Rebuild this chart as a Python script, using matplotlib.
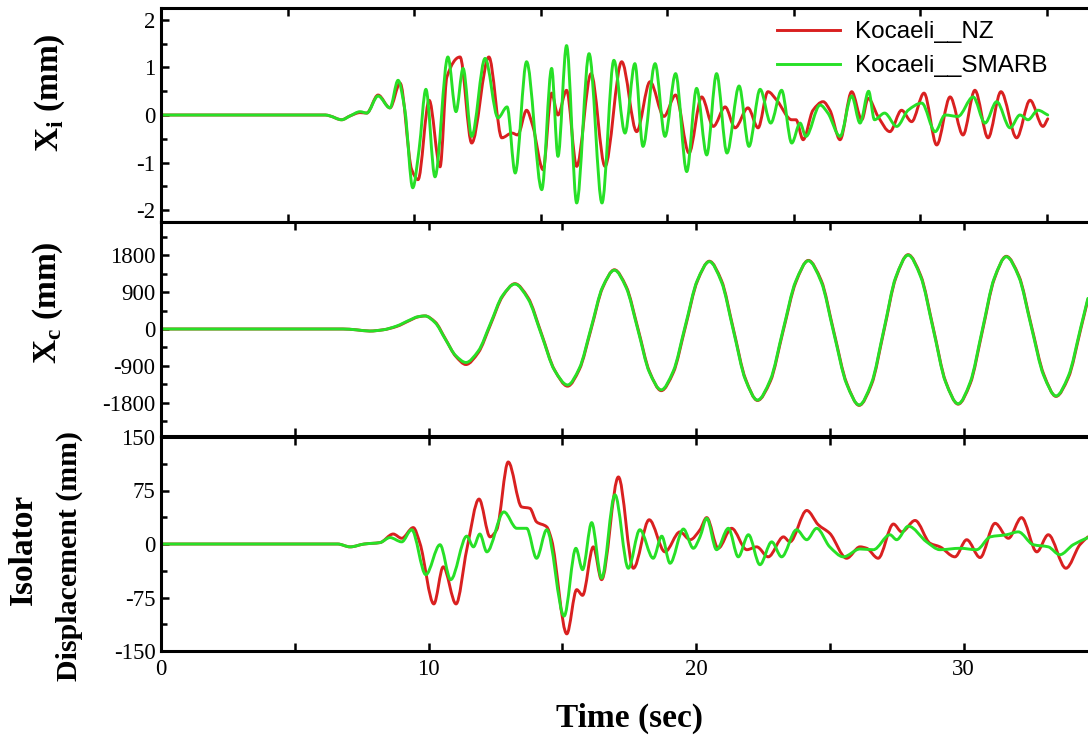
import matplotlib
matplotlib.use('Agg')
import matplotlib.pyplot as plt
from matplotlib.ticker import MultipleLocator, FixedLocator
from matplotlib.path import Path
from matplotlib.patches import PathPatch
from matplotlib.lines import Line2D

plt.rcParams['font.family'] = ['Liberation Serif', 'DejaVu Serif']
plt.rcParams['axes.unicode_minus'] = False

RED = '#d92020'
GREEN = '#27e027'
labels = ['Kocaeli__NZ', 'Kocaeli__SMARB']

# ---- top panel: X_i (mm) ----
xi_t_nz = [0, 6.5, 6.68, 7.14, 7.47, 7.87, 8.13, 8.58, 9.05, 9.45, 9.91, 10.16, 10.6, 11.03,
           11.3, 11.82, 12.28, 12.96, 13.47, 13.87, 14.1, 14.45, 14.7, 15.1, 15.44, 15.69,
           16.03, 16.43, 17.0, 17.55, 18.21, 18.8, 19.33, 19.88, 20.34, 20.87, 21.37, 21.83,
           22.3, 22.69, 23.2, 23.6, 23.99, 24.34, 24.93, 25.1, 25.38, 25.77, 26.17, 26.44,
           26.84, 27.3, 27.7, 27.95, 28.34, 28.81, 29.27, 29.67, 30.16, 30.66, 31.19, 31.7,
           32.17, 32.69, 33.2, 33.82, 34.35, 34.86, 35.05]
xi_nz = [0, 0, -0.02, -0.10, -0.02, 0.05, 0.04, 0.42, 0.15, 0.67, -1.15, -1.36, 0.31, -1.09,
         0.8, 1.22, -0.59, 1.22, -0.48, -0.38, -0.42, 0.10, -0.24, -1.15, 0.46, 0.0,
         0.52, -1.08, 0.87, -1.08, 1.12, -0.35, 0.70, -0.03, 0.42, -0.80, 0.38, -0.24,
         0.17, -0.27, 0.15, -0.27, 0.49, 0.31, -0.10, -0.10, -0.52, 0.10, 0.28, 0.10,
         -0.52, 0.49, -0.10, 0.35, -0.03, -0.35, 0.10, -0.14, 0.46, -0.63, 0.38, -0.42,
         0.52, -0.48, 0.49, -0.48, 0.31, -0.24, -0.08]

xi_t_smarb = [0, 6.5, 6.68, 7.14, 7.47, 7.87, 8.13, 8.58, 9.05, 9.37, 9.64, 9.95, 10.2, 10.47,
              10.83, 11.34, 11.66, 11.94, 12.28, 12.81, 13.32, 13.68, 14.0, 14.45, 15.05,
              15.44, 15.69, 16.03, 16.43, 16.92, 17.43, 17.9, 18.34, 18.73, 19.05, 19.53,
              19.92, 20.34, 20.78, 21.17, 21.57, 21.96, 22.37, 22.85, 23.24, 23.68, 24.1,
              24.53, 24.93, 25.26, 25.49, 26.05, 26.36, 26.84, 27.3, 27.63, 27.97, 28.2,
              28.6, 29.08, 29.53, 30.07, 30.6, 30.99, 31.5, 32.1, 32.57, 33.03, 33.56,
              33.95, 34.27, 34.66, 35.05]
xi_smarb = [0, 0, -0.02, -0.10, -0.02, 0.07, 0.04, 0.40, 0.15, 0.73, 0.10, -1.53, -0.73, 0.54,
            -1.30, 1.22, 0.07, 0.98, -0.45, 1.19, -0.06, 0.17, -1.22, 1.12, -1.57,
            0.98, -0.87, 1.46, -1.85, 1.29, -1.85, 1.15, -0.38, 1.08, -0.66, 1.08,
            -0.45, 0.87, -1.19, 0.56, -0.84, 0.87, -0.80, 0.61, -0.66, 0.54, -0.17,
            0.52, -0.59, -0.17, -0.45, 0.21, 0.04, -0.45, 0.40, -0.17, 0.50, -0.10,
            0.04, -0.24, 0.10, 0.25, -0.35, 0.0, -0.03, 0.38, -0.17, 0.28, -0.27,
            0.0, -0.10, 0.10, 0.0]

# ---- middle panel: X_c (mm) ----
xc_t = [0, 6.8, 7.3, 7.8, 8.3, 8.8, 9.3, 9.6, 9.87,
        10.25, 10.63, 11.02, 11.4,
        11.86, 12.32, 12.77, 13.23,
        13.72, 14.22, 14.71, 15.2,
        15.64, 16.08, 16.51, 16.95,
        17.39, 17.83, 18.26, 18.7,
        19.15, 19.6, 20.05, 20.5,
        20.95, 21.4, 21.85, 22.3,
        22.78, 23.25, 23.73, 24.2,
        24.68, 25.15, 25.63, 26.1,
        26.56, 27.02, 27.47, 27.93,
        28.4, 28.87, 29.33, 29.8,
        30.25, 30.7, 31.15, 31.6,
        32.07, 32.53, 33.0, 33.46,
        33.92, 34.38, 34.65]
xc_smarb = [0, 0, -20, -50, -20, 70, 220, 300, 320,
            154, -250, -654, -820,
            -540, 140, 820, 1100,
            739, -135, -1009, -1370,
            -960, 35, 1030, 1440,
            1012, -25, -1062, -1490,
            -1032, 80, 1192, 1650,
            1155, -45, -1245, -1740,
            -1242, -35, 1172, 1670,
            1155, -95, -1345, -1860,
            -1324, -25, 1274, 1810,
            1279, -10, -1299, -1830,
            -1304, -30, 1244, 1770,
            1272, 65, -1142, -1640,
            -1152, 30, 750]
xc_nz = [0, 0, -20, -50, -20, 60, 210, 295, 320,
         170, -240, -670, -870,
         -580, 110, 800, 1110,
         770, -110, -1000, -1400,
         -990, 0, 1010, 1450,
         1040, 10, -1040, -1510,
         -1070, 40, 1170, 1660,
         1190, -10, -1220, -1750,
         -1280, -70, 1140, 1680,
         1190, -60, -1320, -1870,
         -1360, -60, 1250, 1820,
         1310, 20, -1280, -1840,
         -1340, -70, 1220, 1780,
         1300, 100, -1110, -1650,
         -1190, -10, 720]

# ---- bottom panel: isolator displacement (mm) ----
iso_t_nz = [0, 6.6, 7.07, 7.6, 8.19, 8.68, 9.0, 9.43, 9.68, 10.2, 10.55, 11.03, 11.43, 11.89,
            12.3, 12.55, 12.98, 13.48, 13.79, 14.04, 14.42, 14.6, 15.17, 15.54, 15.76, 16.16,
            16.47, 17.1, 17.66, 18.25, 18.84, 19.4, 19.78, 20.15, 20.4, 20.83, 21.33, 21.9,
            22.27, 22.7, 23.27, 23.51, 24.14, 24.57, 25.0, 25.63, 26.13, 26.38, 26.81, 27.38,
            27.69, 28.19, 28.75, 29.12, 29.68, 30.12, 30.62, 31.18, 31.68, 32.17, 32.74,
            33.17, 33.83, 34.35, 34.65]
iso_nz = [0, 0, -4, 0, 2, 14, 8, 23, 1, -84, -32, -84, -8, 63,
          10, 20, 115, 52, 50, 31, 24, 6, -126, -64, -72, -4,
          -50, 94, -34, 34, -11, 17, 6, 20, 37, -6, 22, -8,
          -4, -18, 10, 3, 47, 27, 15, -20, -4, -6, -20, 28,
          17, 33, 1, -4, -18, 6, -19, 29, 8, 37, -11,
          13, -34, -1, 10]

iso_t_smarb = [0, 6.6, 7.07, 7.6, 8.19, 8.56, 9.0, 9.37, 9.9, 10.43, 10.83, 11.43, 11.68, 11.92,
               12.18, 12.82, 13.3, 13.67, 14.04, 14.42, 15.07, 15.51, 15.76, 16.1, 16.47,
               16.97, 17.47, 17.9, 18.4, 18.72, 19.03, 19.53, 19.9, 20.15, 20.4, 20.77,
               21.21, 21.58, 21.96, 22.39, 22.83, 23.2, 23.76, 24.14, 24.51, 25.0, 25.51,
               26.13, 26.63, 27.25, 27.5, 27.94, 28.62, 29.12, 29.87, 30.49, 31.0, 31.61,
               32.05, 32.61, 33.17, 33.6, 34.1, 34.65]
iso_smarb = [0, 0, -4, 0, 2, 9, 3, 20, -43, -1, -50, 11, -4, 14,
             -11, 45, 22, 22, -20, 20, -101, -6, -36, 30, -48,
             69, -34, 20, -20, 11, -27, 21, -6, 10, 36, -8,
             22, -18, 13, -29, 3, -18, 20, 6, 22, -4, -18,
             -7, -8, 13, 6, 25, 3, -8, -6, -8, 10, 13,
             17, -1, -4, -15, -1, 9]


def smooth_line(ax, t, y, color, lw):
    # "smoothed line" connection: monotone cubic (PCHIP) drawn as bezier segments
    n = len(t)
    h = [t[i + 1] - t[i] for i in range(n - 1)]
    d = [(y[i + 1] - y[i]) / h[i] for i in range(n - 1)]
    m = [d[0]] + [0.0] * (n - 2) + [d[-1]]
    for i in range(1, n - 1):
        if d[i - 1] * d[i] > 0:
            w1 = 2 * h[i] + h[i - 1]
            w2 = h[i] + 2 * h[i - 1]
            m[i] = (w1 + w2) / (w1 / d[i - 1] + w2 / d[i])
    verts = [(t[0], y[0])]
    codes = [Path.MOVETO]
    for i in range(n - 1):
        verts += [(t[i] + h[i] / 3, y[i] + m[i] * h[i] / 3),
                  (t[i + 1] - h[i] / 3, y[i + 1] - m[i + 1] * h[i] / 3),
                  (t[i + 1], y[i + 1])]
        codes += [Path.CURVE4] * 3
    ax.add_patch(PathPatch(Path(verts, codes), fill=False, edgecolor=color, lw=lw,
                           capstyle='round', joinstyle='round', zorder=2))


W, H = 1088, 740
fig = plt.figure(figsize=(W / 100, H / 100), dpi=100)

# axes extend past the right edge of the picture (the original is cropped there)
ax1 = fig.add_axes([161 / W, 1 - 222 / H, (25.3 * 40) / W, 214 / H])
ax2 = fig.add_axes([161 / W, 1 - 436 / H, (26.75 * 40) / W, 214 / H])
ax3 = fig.add_axes([161 / W, 1 - 651 / H, (26.75 * 40) / W, 214 / H])

lw = 2.1
smooth_line(ax1, xi_t_nz, xi_nz, RED, lw)
smooth_line(ax1, xi_t_smarb, xi_smarb, GREEN, lw)
smooth_line(ax2, xc_t, xc_nz, RED, lw)
smooth_line(ax2, xc_t, xc_smarb, GREEN, lw)
smooth_line(ax3, iso_t_nz, iso_nz, RED, lw)
smooth_line(ax3, iso_t_smarb, iso_smarb, GREEN, lw)

ax1.set_ylim(-2.25, 2.25)
ax1.yaxis.set_major_locator(MultipleLocator(1))
ax1.yaxis.set_minor_locator(MultipleLocator(0.5))
ax2.set_ylim(-2620, 2620)
ax2.yaxis.set_major_locator(MultipleLocator(900))
ax2.yaxis.set_minor_locator(MultipleLocator(450))
ax3.set_ylim(-150, 150)
ax3.yaxis.set_major_locator(MultipleLocator(75))
ax3.yaxis.set_minor_locator(MultipleLocator(37.5))

for ax in (ax1, ax2, ax3):
    ax.set_xlim(0, 40)
    ax.xaxis.set_major_locator(FixedLocator([0, 10, 20, 30]))
    ax.xaxis.set_minor_locator(FixedLocator([5, 15, 25, 35]))
    ax.spines['right'].set_visible(False)
    for s in ('left', 'top', 'bottom'):
        ax.spines[s].set_linewidth(2.2)
    ax.tick_params(which='both', direction='in', top=True, right=False, width=1.8,
                   labelsize=16.5, pad=4)
    ax.tick_params(which='major', length=6)
    ax.tick_params(which='minor', length=4)
    ax.tick_params(axis='x', which='minor', length=6)

ax1.tick_params(axis='x', labelbottom=False)
ax2.tick_params(axis='x', labelbottom=False)
ax3.tick_params(axis='x', pad=6)

lab = dict(fontweight='bold', rotation=90, ha='center', va='center')
fig.text(50 / W, 1 - 93 / H, r'X$_\mathregular{i}$ (mm)', fontsize=24, **lab)
fig.text(48 / W, 1 - 303 / H, r'X$_\mathregular{c}$ (mm)', fontsize=24, **lab)
fig.text(23 / W, 1 - 549 / H, 'Isolator', fontsize=24, **lab)
fig.text(69 / W, 1 - 556 / H, 'Displacement (mm)', fontsize=21.5, **lab)
fig.text(630 / W, 1 - 718 / H, 'Time (sec)', fontsize=24, fontweight='bold',
         ha='center', va='center')

handles = [Line2D([], [], color=RED, lw=lw), Line2D([], [], color=GREEN, lw=lw)]
ax1.legend(handles, labels, loc='upper left', bbox_to_anchor=(777 / W, 1 - 21 / H),
           bbox_transform=fig.transFigure, frameon=False, borderpad=0, borderaxespad=0,
           handlelength=2.6, handletextpad=0.6, labelspacing=0.5,
           prop={'family': 'Liberation Sans', 'size': 17.5})

fig.savefig('out.png', dpi=100)
